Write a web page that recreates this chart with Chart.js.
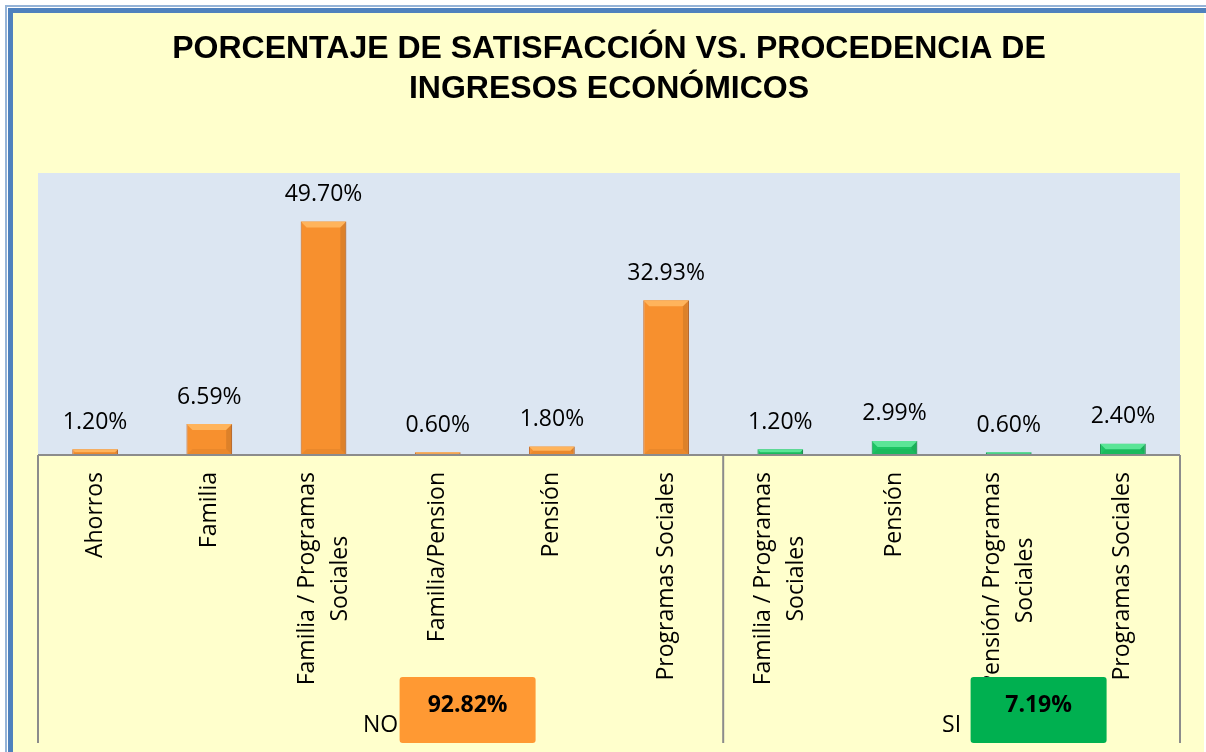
<!DOCTYPE html>
<html>
<head>
<meta charset="utf-8">
<script src="https://cdn.jsdelivr.net/npm/chart.js@4/dist/chart.umd.min.js"></script>
<style>
  html, body { margin: 0; padding: 0; background: #ffffff; }
  #wrap { position: relative; width: 1206px; height: 752px; }
</style>
</head>
<body>
<div id="wrap"><canvas id="chart"></canvas></div>
<script>
// Chart data
const categories = [
    ['Ahorros'],
    ['Familia'],
    ['Familia / Programas', 'Sociales'],
    ['Familia/Pension'],
    ['Pensión'],
    ['Programas Sociales'],
    ['Familia / Programas', 'Sociales'],
    ['Pensión'],
    ['Pensión/ Programas', 'Sociales'],
    ['Programas Sociales']
];
const values = [1.20, 6.59, 49.70, 0.60, 1.80, 32.93, 1.20, 2.99, 0.60, 2.40];
const groupNames = ['NO', 'SI'];
const groupSizes = [6, 4];
const groupTotals = [92.82, 7.19];
const titleLines = ['PORCENTAJE DE SATISFACCIÓN VS. PROCEDENCIA DE', 'INGRESOS ECONÓMICOS'];

const BG = '#FFFFCC';
const PLOT_BG = '#DCE6F2';
const AXIS = '#8C8C8C';
const FONT = '"Open Sans", sans-serif';
const palette = {
    NO: { fill: '#F7902E', light: '#FFB45C', dark: '#C8651A', box: '#FF9933' },
    SI: { fill: '#1CC463', light: '#5BE597', dark: '#0A8C42', box: '#00B050' }
};

// group name for every bar
const barGroups = [];
groupNames.forEach((g, i) => { for (let k = 0; k < groupSizes[i]; k++) barGroups.push(g); });

/**
 * Frame, title and plot background
 */
const backgroundPlugin = {
    id: 'background',
    beforeDraw(chart) {
        const { ctx, width, height, chartArea } = chart;
        ctx.save();
        ctx.fillStyle = '#ffffff';
        ctx.fillRect(0, 0, width, height);
        ctx.fillStyle = '#95B3D7';
        ctx.fillRect(5, 5, width - 5, 2);
        ctx.fillRect(5, 5, 2, height - 5);
        ctx.fillStyle = '#4F81BD';
        ctx.fillRect(8, 8, width - 8, 5);
        ctx.fillRect(8, 8, 5, height - 8);
        ctx.fillStyle = BG;
        ctx.fillRect(13, 13, width - 15, height - 13);
        ctx.fillStyle = PLOT_BG;
        ctx.fillRect(chartArea.left, chartArea.top, chartArea.right - chartArea.left, chartArea.bottom - chartArea.top);

        // title
        ctx.fillStyle = '#000000';
        ctx.font = 'bold 32px "Liberation Sans", Arial, sans-serif';
        ctx.textAlign = 'center';
        ctx.textBaseline = 'middle';
        const cx = (chartArea.left + chartArea.right) / 2;
        ctx.fillText(titleLines[0], cx, 49);
        ctx.fillText(titleLines[1], cx, 89);
        ctx.restore();
    }
};

/**
 * Bevel on the bars plus value labels
 */
const barDecorPlugin = {
    id: 'barDecor',
    afterDatasetsDraw(chart) {
        const { ctx } = chart;
        const meta = chart.getDatasetMeta(0);
        ctx.save();
        meta.data.forEach((bar, i) => {
            const col = palette[barGroups[i]];
            const l = bar.x - bar.width / 2, r = bar.x + bar.width / 2;
            const top = bar.y, base = bar.base;
            const b = Math.min(6, (base - top) / 2, bar.width / 4);
            ctx.fillStyle = col.light;
            ctx.beginPath();
            ctx.moveTo(l, top); ctx.lineTo(r, top); ctx.lineTo(r - b, top + b); ctx.lineTo(l + b, top + b);
            ctx.closePath(); ctx.fill();
            ctx.fillStyle = 'rgba(0,0,0,0.10)';
            ctx.beginPath();
            ctx.moveTo(r, top); ctx.lineTo(r, base); ctx.lineTo(r - b, base - b); ctx.lineTo(r - b, top + b);
            ctx.closePath(); ctx.fill();
            ctx.fillStyle = 'rgba(0,0,0,0.05)';
            ctx.beginPath();
            ctx.moveTo(l, base); ctx.lineTo(r, base); ctx.lineTo(r - b, base - b); ctx.lineTo(l + b, base - b);
            ctx.closePath(); ctx.fill();

            ctx.fillStyle = '#000000';
            ctx.font = '23px ' + FONT;
            ctx.textAlign = 'center';
            ctx.textBaseline = 'middle';
            ctx.fillText(values[i].toFixed(2) + '%', bar.x, top - 27);
        });
        ctx.restore();
    }
};

/**
 * Axis lines, rotated category labels and group labels
 */
const axisPlugin = {
    id: 'axisDecor',
    afterDraw(chart) {
        const { ctx, chartArea, height } = chart;
        const xs = chart.scales.x;
        const half = (xs.getPixelForValue(1) - xs.getPixelForValue(0)) / 2;
        const axisBottom = height - 9;
        ctx.save();

        // category labels, rotated
        ctx.fillStyle = '#000000';
        ctx.font = '23px ' + FONT;
        ctx.textAlign = 'center';
        ctx.textBaseline = 'middle';
        const lineH = 33;
        categories.forEach((lines, i) => {
            const px = xs.getPixelForValue(i);
            const w = Math.max(...lines.map(t => ctx.measureText(t).width));
            const cy = chartArea.bottom + 17 + w / 2;
            lines.forEach((t, j) => {
                const lx = px + (j - (lines.length - 1) / 2) * lineH;
                ctx.save();
                ctx.translate(lx, cy);
                ctx.rotate(-Math.PI / 2);
                ctx.fillText(t, 0, 0);
                ctx.restore();
            });
        });

        // axis lines
        ctx.strokeStyle = AXIS;
        ctx.lineWidth = 2;
        ctx.beginPath();
        ctx.moveTo(chartArea.left, chartArea.bottom);
        ctx.lineTo(chartArea.right, chartArea.bottom);
        let start = 0;
        const edges = [xs.getPixelForValue(0) - half];
        groupSizes.forEach(n => {
            start += n;
            edges.push(xs.getPixelForValue(start - 1) + half);
        });
        edges.forEach(x => {
            ctx.moveTo(x, chartArea.bottom);
            ctx.lineTo(x, axisBottom);
        });
        ctx.stroke();

        // group labels with total boxes
        groupNames.forEach((g, i) => {
            const gx = (edges[i] + edges[i + 1]) / 2;
            ctx.fillStyle = '#000000';
            ctx.font = '23px ' + FONT;
            ctx.textAlign = 'center';
            ctx.fillText(g, gx, axisBottom - 18);

            const bx = gx + 19, by = axisBottom - 66, bw = 136, bh = 66;
            ctx.fillStyle = palette[g].box;
            ctx.beginPath();
            ctx.roundRect(bx, by, bw, bh, 3);
            ctx.fill();
            ctx.fillStyle = '#000000';
            ctx.font = 'bold 23px ' + FONT;
            ctx.fillText(groupTotals[i].toFixed(2) + '%', bx + bw / 2, by + 28);
        });
        ctx.restore();
    }
};

new Chart(document.getElementById('chart'), {
    type: 'bar',
    data: {
        labels: categories,
        datasets: [{
            data: values,
            backgroundColor: barGroups.map(g => palette[g].fill),
            borderColor: barGroups.map(g => palette[g].dark),
            borderWidth: 1,
            barPercentage: 0.4,
            categoryPercentage: 1
        }]
    },
    options: {
        responsive: true,
        maintainAspectRatio: false,
        animation: false,
        layout: { padding: { left: 38, right: 26, top: 173, bottom: 0 } },
        plugins: {
            legend: { display: false },
            title: { display: false },
            tooltip: { enabled: false }
        },
        scales: {
            x: {
                grid: { display: false },
                border: { display: false },
                ticks: { display: false },
                afterFit: scale => { scale.height = 297; }
            },
            y: {
                display: false,
                min: 0,
                max: 60
            }
        }
    },
    plugins: [backgroundPlugin, barDecorPlugin, axisPlugin]
});
</script>
</body>
</html>
